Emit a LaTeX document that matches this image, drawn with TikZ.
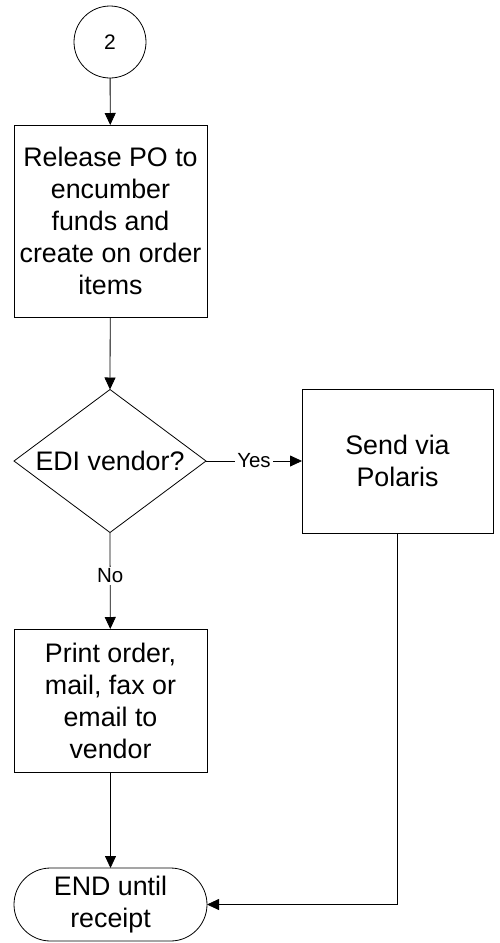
\documentclass[tikz,border=0pt]{standalone}
\usepackage{fontspec}
\setmainfont{Liberation Sans}
\usetikzlibrary{arrows.meta,shapes.geometric}
\begin{document}
\begin{tikzpicture}[x=1pt,y=-1pt,
  every node/.style={inner sep=0pt,outer sep=0pt},
  proc/.style={draw,line width=0.8pt,minimum width=193pt,align=center,font=\fontsize{26.8}{32}\selectfont},
  lbl/.style={fill=white,font=\fontsize{20.5}{24}\selectfont,inner sep=2pt},
  conn/.style={line width=0.8pt,-{Triangle[length=12pt,width=11pt]}}]
\useasboundingbox (0,0) rectangle (499,943);
\node[draw,circle,line width=0.8pt,minimum size=72pt,font=\fontsize{21}{24}\selectfont] (c) at (110,42) {2};
\node[proc,minimum height=192pt] (b1) at (110.5,221) {Release PO to\\encumber\\funds and\\create on order\\items};
\node[draw,diamond,line width=0.8pt,minimum width=192pt,minimum height=143pt,aspect=1.34] (d) at (110,461) {};
\node[font=\fontsize{26.8}{32}\selectfont] at (110,461) {EDI vendor?};
\node[proc,minimum width=191pt,minimum height=144pt] (b2) at (397.5,461) {Send via\\Polaris};
\node[proc,minimum height=143pt] (b3) at (110.5,700.5) {Print order,\\mail, fax or\\email to\\vendor};
\node[proc,minimum height=73pt,rounded corners=36.5pt] (t) at (110.5,904.5) {END until\\receipt};
\draw[conn] (c) -- (b1);
\draw[conn] (b1) -- (d.north);
\draw[conn] (d.east) -- node[lbl]{Yes} (b2.west);
\draw[conn] (d.south) -- node[lbl,pos=0.45]{No} (b3);
\draw[conn] (b3) -- (t);
\coordinate (k) at (b2.south |- t.east);
\draw[conn] (b2.south) -- (k) -- (t.east);
\end{tikzpicture}
\end{document}
